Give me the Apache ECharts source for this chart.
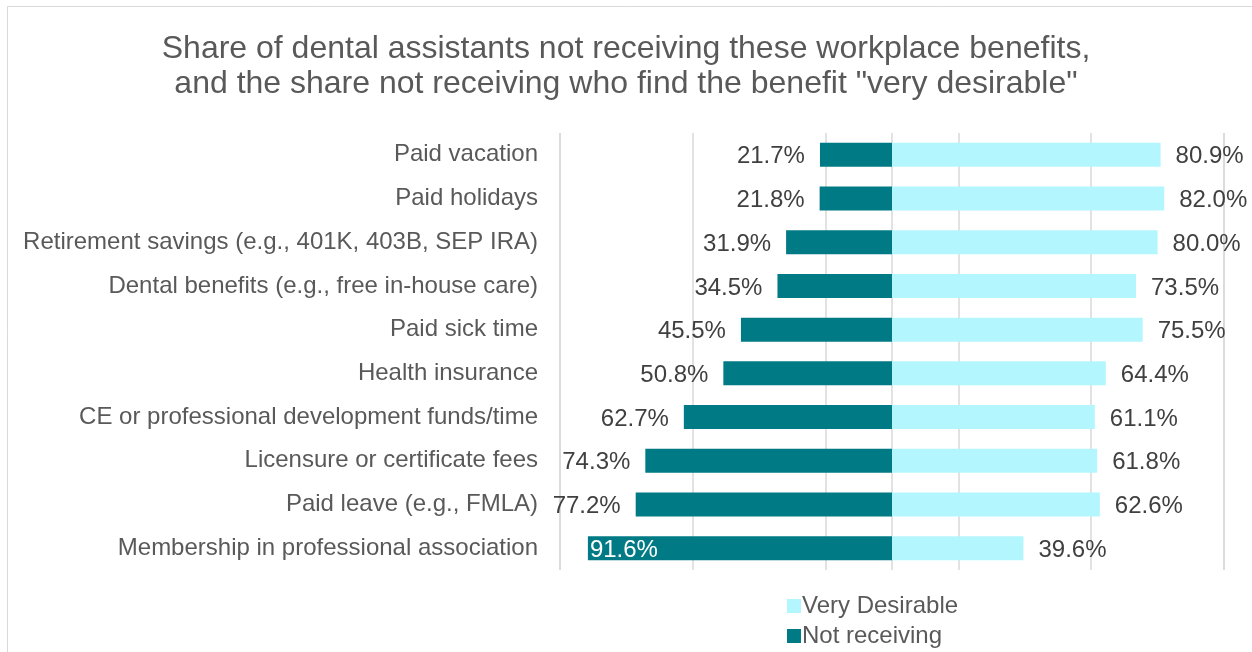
<!DOCTYPE html>
<html>
<head>
<meta charset="utf-8">
<script src="https://cdn.jsdelivr.net/npm/echarts@6/dist/echarts.min.js"></script>
<style>
  html, body { margin: 0; padding: 0; background: #fff; }
  #main { width: 1252px; height: 652px; }
</style>
</head>
<body>
<div id="main"></div>
<script>
// benefits, top to bottom
const benefits = [
    'Paid vacation',
    'Paid holidays',
    'Retirement savings (e.g., 401K, 403B, SEP IRA)',
    'Dental benefits (e.g., free in-house care)',
    'Paid sick time',
    'Health insurance',
    'CE or professional development funds/time',
    'Licensure or certificate fees',
    'Paid leave (e.g., FMLA)',
    'Membership in professional association'
]
const notReceiving = [21.7, 21.8, 31.9, 34.5, 45.5, 50.8, 62.7, 74.3, 77.2, 91.6]
const veryDesirable = [80.9, 82.0, 80.0, 73.5, 75.5, 64.4, 61.1, 61.8, 62.6, 39.6]

const FONT = '"Liberation Sans", Arial, sans-serif'
const SIZE = 24
const fmt = p => Math.abs(p.value).toFixed(1) + '%'

// not receiving goes to the left; the longest one gets its label inside
const leftData = notReceiving.map(v => {
    let item = {value: -v}
    if (v > 85) {
        item.label = {position: 'insideLeft', color: '#fff', distance: 2}
    }
    return item
})

// one legend per row, stacked like the original
function legendRow(name, top) {
    return {
        left: 782,
        top: top,
        itemWidth: 14,
        itemHeight: 14,
        icon: 'rect',
        data: [name],
        textStyle: {fontFamily: FONT, fontSize: SIZE, color: '#595959', padding: [0, 0, 0, -4]}
    }
}

const chart = echarts.init(document.getElementById('main'))
chart.setOption({
    backgroundColor: '#fff',
    animation: false,
    textStyle: {fontFamily: FONT},
    graphic: [{
        type: 'rect',
        shape: {x: 7.5, y: 6.5, width: 1300, height: 700},
        style: {fill: 'none', stroke: '#d9d9d9', lineWidth: 1},
        silent: true
    }],
    title: {
        text: 'Share of dental assistants not receiving these workplace benefits,\nand the share not receiving who find the benefit "very desirable"',
        left: 'center',
        top: 27,
        textStyle: {
            fontFamily: FONT,
            fontSize: 32,
            fontWeight: 'normal',
            color: '#595959',
            lineHeight: 35
        }
    },
    legend: [
        legendRow('Very Desirable', 589),
        legendRow('Not receiving', 619)
    ],
    grid: {left: 560, right: 28, top: 133, height: 437, containLabel: false},
    xAxis: [{
        type: 'value',
        min: -100,
        max: 100,
        interval: 100,
        axisLabel: {show: false},
        axisLine: {show: false},
        axisTick: {show: false},
        splitLine: {show: true, lineStyle: {color: '#d9d9d9', width: 1.5}}
    }, {
        // only here for the gridlines at -100, -60, -20, 20, 60, 100
        type: 'value',
        min: 0,
        max: 200,
        interval: 40,
        position: 'top',
        axisLabel: {show: false},
        axisLine: {show: false},
        axisTick: {show: false},
        splitLine: {show: true, lineStyle: {color: '#d9d9d9', width: 1.5}}
    }],
    yAxis: {
        type: 'category',
        inverse: true,
        data: benefits,
        axisLine: {show: false, onZero: false},
        axisTick: {show: false},
        axisLabel: {margin: 22, padding: [4, 0, 0, 0], fontFamily: FONT, fontSize: SIZE, color: '#595959'}
    },
    series: [{
        name: 'Very Desirable',
        type: 'bar',
        xAxisIndex: 0,
        data: veryDesirable,
        barWidth: 24,
        barGap: '-100%',
        itemStyle: {color: '#B3F6FD'},
        label: {show: true, position: 'right', distance: 15, offset: [0, 2], formatter: fmt,
            fontFamily: FONT, fontSize: SIZE, color: '#404040'}
    }, {
        name: 'Not receiving',
        type: 'bar',
        xAxisIndex: 0,
        data: leftData,
        barWidth: 24,
        itemStyle: {color: '#007A85'},
        label: {show: true, position: 'left', distance: 15, offset: [0, 2], formatter: fmt,
            fontFamily: FONT, fontSize: SIZE, color: '#404040'}
    }]
})
</script>
</body>
</html>
